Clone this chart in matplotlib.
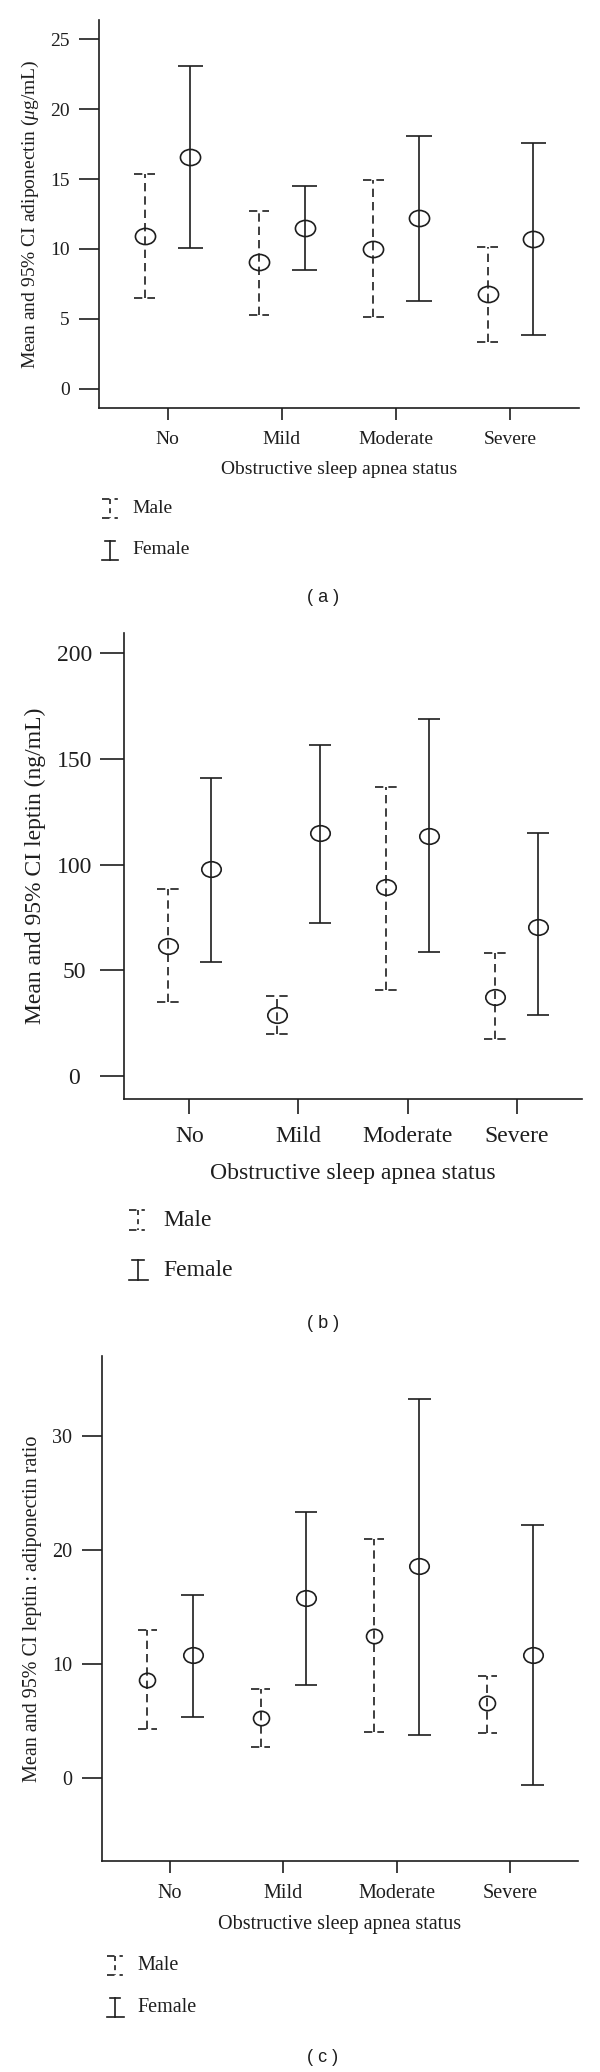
import numpy as np
import matplotlib
matplotlib.use('Agg')
import matplotlib.pyplot as plt
from matplotlib.lines import Line2D
from matplotlib.path import Path
from matplotlib.transforms import Affine2D

plt.rcParams['font.family'] = ['Liberation Serif', 'DejaVu Serif']
plt.rcParams['mathtext.fontset'] = 'custom'
plt.rcParams['mathtext.rm'] = 'Liberation Serif'
plt.rcParams['mathtext.it'] = 'Liberation Serif:italic'

# categories on the x axis
categories = ['No', 'Mild', 'Moderate', 'Severe']

# (a) adiponectin, mean and 95% CI
adipo_male_mean = [10.96, 9.04, 10.03, 6.75]
adipo_male_lo = [6.53, 5.31, 5.17, 3.36]
adipo_male_hi = [15.34, 12.70, 14.90, 10.17]
adipo_female_mean = [16.60, 11.50, 12.23, 10.70]
adipo_female_lo = [10.10, 8.50, 6.30, 3.84]
adipo_female_hi = [23.10, 14.50, 18.10, 17.60]

# (b) leptin
leptin_male_mean = [61.5, 28.9, 89.4, 37.4]
leptin_male_lo = [34.9, 20.0, 40.6, 17.4]
leptin_male_hi = [88.3, 37.7, 136.8, 58.3]
leptin_female_mean = [97.7, 114.9, 113.4, 70.6]
leptin_female_lo = [54.0, 72.3, 58.5, 28.7]
leptin_female_hi = [140.9, 156.4, 168.7, 114.7]

# (c) leptin:adiponectin ratio
ratio_male_mean = [8.56, 5.27, 12.49, 6.57]
ratio_male_lo = [4.32, 2.72, 4.02, 3.98]
ratio_male_hi = [12.97, 7.78, 20.93, 8.95]
ratio_female_mean = [10.77, 15.78, 18.55, 10.77]
ratio_female_lo = [5.36, 8.13, 3.76, -0.65]
ratio_female_hi = [16.00, 23.35, 33.20, 22.18]

W, H = 600, 2072
INK = '#1e1e1e'
LW = 1.2
DASH = (0, (5, 3))

fig = plt.figure(figsize=(W / 100, H / 100), dpi=100)


def fx(x):
    return x / W


def fy(y):
    return 1 - y / H


def ellipse(ratio):
    return Affine2D().scale(1, ratio).transform_path(Path.unit_circle())


def panel(box, male, female, ylim, yticks, ylabel, cfg):
    left, top, right, bottom = box
    ax = fig.add_axes([fx(left), fy(bottom), (right - left) / W, (bottom - top) / H])
    x = np.arange(len(categories))
    xm = x - 0.2
    xf = x + 0.2

    m_mean, m_lo, m_hi = male
    f_mean, f_lo, f_hi = female

    # male: dashed bars
    ax.vlines(xm, m_lo, m_hi, colors=INK, linestyles=DASH, lw=LW)
    cm = cfg['cap_m']
    ax.hlines(m_lo, xm - cm, xm + cm, colors=INK, linestyles=DASH, lw=LW)
    ax.hlines(m_hi, xm - cm, xm + cm, colors=INK, linestyles=DASH, lw=LW)
    ax.plot(xm, m_mean, ls='none', marker=ellipse(cfg['ratio_m']), ms=cfg['ms_m'],
            mfc='none', mec=INK, mew=LW)

    # female: solid bars
    ax.vlines(xf, f_lo, f_hi, colors=INK, lw=LW)
    cf = cfg['cap_f']
    ax.hlines(f_lo, xf - cf, xf + cf, colors=INK, lw=LW)
    ax.hlines(f_hi, xf - cf, xf + cf, colors=INK, lw=LW)
    ax.plot(xf, f_mean, ls='none', marker=ellipse(cfg['ratio_f']), ms=cfg['ms_f'],
            mfc='none', mec=INK, mew=LW)

    ax.set_xlim(-0.6, 3.6)
    ax.set_ylim(*ylim)
    ax.set_xticks(x)
    ax.set_xticklabels(categories, fontsize=cfg['fs'], color=INK)
    ax.set_yticks(yticks)
    ax.set_yticklabels([str(t) for t in yticks], fontsize=cfg['fs'], color=INK,
                       ha=cfg['yha'])
    for s in ['top', 'right']:
        ax.spines[s].set_visible(False)
    for s in ['left', 'bottom']:
        ax.spines[s].set_linewidth(LW)
        ax.spines[s].set_color(INK)
    ax.tick_params(axis='y', length=cfg['ylen'], width=LW, color=INK, pad=cfg['ypad'])
    ax.tick_params(axis='x', length=cfg['xlen'], width=LW, color=INK, pad=8.3)

    ax.set_xlabel('Obstructive sleep apnea status', fontsize=cfg['fs'], color=INK,
                  va='center')
    ax.xaxis.set_label_coords(0.5, (bottom - cfg['xlab_y']) / (bottom - top))
    ax.set_ylabel(ylabel, fontsize=cfg['yfs'], color=INK, va='center')
    ax.yaxis.set_label_coords((cfg['ylab_x'] - left) / (right - left), 0.5)

    # legend keys
    kx = cfg['key_x']
    hh = cfg['key_h'] / 2
    hw = cfg['key_w'] / 2
    ym, yf = cfg['key_y']
    fig.add_artist(Line2D([fx(kx), fx(kx)], [fy(ym - hh), fy(ym + hh)], color=INK,
                          lw=LW, ls=(0, (3, 2.5))))
    for yy in (ym - hh, ym + hh):
        fig.add_artist(Line2D([fx(kx - hw), fx(kx + hw)], [fy(yy), fy(yy)], color=INK,
                              lw=LW, ls=(0, (4.5, 3, 2, 10))))
    fig.add_artist(Line2D([fx(kx), fx(kx)], [fy(yf - hh), fy(yf + hh)], color=INK, lw=LW))
    fig.add_artist(Line2D([fx(kx - hw * 0.6), fx(kx + hw * 0.6)], [fy(yf - hh), fy(yf - hh)],
                          color=INK, lw=LW))
    fig.add_artist(Line2D([fx(kx - hw), fx(kx + hw)], [fy(yf + hh), fy(yf + hh)],
                          color=INK, lw=LW))
    fig.text(fx(cfg['key_tx']), fy(ym), 'Male', fontsize=cfg['fs'], color=INK,
             va='center', ha='left')
    fig.text(fx(cfg['key_tx']), fy(yf), 'Female', fontsize=cfg['fs'], color=INK,
             va='center', ha='left')

    fig.text(fx(323), fy(cfg['cap_y']), cfg['caption'], fontsize=13, color=INK,
             family='Liberation Sans', ha='center', va='center')
    return ax


cfg_a = dict(fs=14, yfs=14, yha='right', ylen=14.4, ypad=6.5, xlen=8.6,
             cap_m=0.09, cap_f=0.11, ms_m=14.5, ms_f=14.5, ratio_m=0.8, ratio_f=0.8,
             xlab_y=469, ylab_x=30, key_x=110, key_w=16, key_h=19, key_y=(508, 550),
             key_tx=132, cap_y=598, caption='( a )')
cfg_b = dict(fs=17, yfs=17, yha='center', ylen=17.3, ypad=18.5, xlen=10.8,
             cap_m=0.1, cap_f=0.1, ms_m=14, ms_f=14, ratio_m=0.8, ratio_f=0.8,
             xlab_y=1173, ylab_x=35, key_x=138, key_w=19, key_h=20, key_y=(1220, 1270),
             key_tx=163, cap_y=1323, caption='( b )')
cfg_c = dict(fs=14.5, yfs=14.5, yha='right', ylen=14.4, ypad=7, xlen=8.6,
             cap_m=0.085, cap_f=0.1, ms_m=11.5, ms_f=14, ratio_m=0.9, ratio_f=0.8,
             xlab_y=1924, ylab_x=32, key_x=115, key_w=17, key_h=19, key_y=(1965, 2007),
             key_tx=137, cap_y=2058, caption='( c )')

panel((99, 20, 579, 408),
      (adipo_male_mean, adipo_male_lo, adipo_male_hi),
      (adipo_female_mean, adipo_female_lo, adipo_female_hi),
      (-1.36, 26.36), [0, 5, 10, 15, 20, 25],
      r'Mean and 95% CI adiponectin ($\mu$g/mL)', cfg_a)

panel((124, 633, 582, 1099),
      (leptin_male_mean, leptin_male_lo, leptin_male_hi),
      (leptin_female_mean, leptin_female_lo, leptin_female_hi),
      (-10.9, 209.5), [0, 50, 100, 150, 200],
      'Mean and 95% CI leptin (ng/mL)', cfg_b)

panel((102, 1356, 578, 1861),
      (ratio_male_mean, ratio_male_lo, ratio_male_hi),
      (ratio_female_mean, ratio_female_lo, ratio_female_hi),
      (-7.28, 37.0), [0, 10, 20, 30],
      'Mean and 95% CI leptin\u2009:\u2009adiponectin ratio', cfg_c)

fig.savefig('out.png', dpi=100)
